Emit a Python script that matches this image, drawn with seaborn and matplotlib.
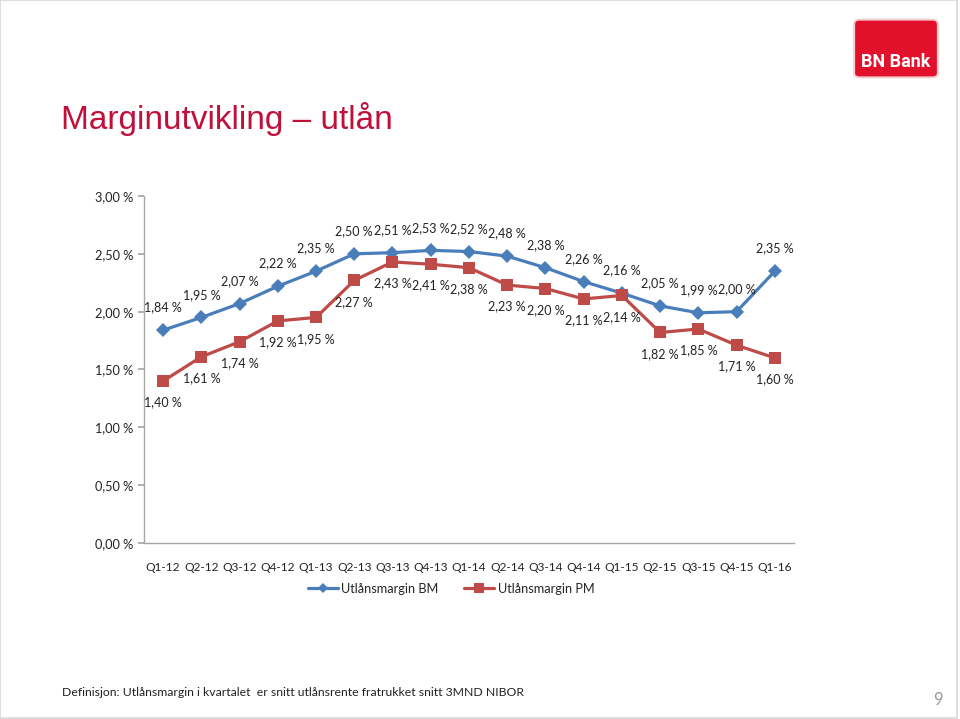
import matplotlib
matplotlib.use("Agg")
import matplotlib.pyplot as plt
import seaborn as sns
import pandas as pd
from matplotlib.patches import FancyBboxPatch, Rectangle
from matplotlib.ticker import FuncFormatter
from matplotlib.lines import Line2D

quarters = ["Q1-12", "Q2-12", "Q3-12", "Q4-12", "Q1-13", "Q2-13", "Q3-13", "Q4-13",
            "Q1-14", "Q2-14", "Q3-14", "Q4-14", "Q1-15", "Q2-15", "Q3-15", "Q4-15", "Q1-16"]
margin_bm = [1.84, 1.95, 2.07, 2.22, 2.35, 2.50, 2.51, 2.53, 2.52, 2.48, 2.38, 2.26,
             2.16, 2.05, 1.99, 2.00, 2.35]
margin_pm = [1.40, 1.61, 1.74, 1.92, 1.95, 2.27, 2.43, 2.41, 2.38, 2.23, 2.20, 2.11,
             2.14, 1.82, 1.85, 1.71, 1.60]
series_names = ["Utlånsmargin BM", "Utlånsmargin PM"]
yticks = [0.0, 0.5, 1.0, 1.5, 2.0, 2.5, 3.0]

sns.set_theme(style="white")
plt.rcParams["font.family"] = ["Lato", "DejaVu Sans"]

df = pd.DataFrame({
    "Kvartal": quarters * 2,
    "Margin": margin_bm + margin_pm,
    "Serie": [series_names[0]] * len(quarters) + [series_names[1]] * len(quarters),
})
df["pos"] = df["Kvartal"].map({q: i for i, q in enumerate(quarters)})

blue = "#4A7EBB"
red = "#BE4B48"

fig = plt.figure(figsize=(9.6, 7.19), dpi=100)
fig.patch.set_facecolor("white")
ax = fig.add_axes([0.150, 0.2448, 0.677, 0.4826])

sns.lineplot(data=df, x="pos", y="Margin", hue="Serie", style="Serie",
             palette={series_names[0]: blue, series_names[1]: red},
             markers={series_names[0]: "D", series_names[1]: "s"},
             dashes=False, linewidth=2.3, markersize=7.5, markeredgewidth=0,
             ax=ax, legend=False)
for line, ms in zip(ax.lines, [7, 9]):
    line.set_markersize(ms)

ax.set_xlim(-0.5, len(quarters) - 0.5)
ax.set_ylim(0, 3.0)
ax.set_xticks(range(len(quarters)))
ax.set_xticklabels(quarters)
ax.set_yticks(yticks)
ax.yaxis.set_major_formatter(FuncFormatter(lambda v, p: f"{v:.2f} %".replace(".", ",")))
ax.set_xlabel("")
ax.set_ylabel("")
for s in ["top", "right"]:
    ax.spines[s].set_visible(False)
for s in ["left", "bottom"]:
    ax.spines[s].set_color("#A6A6A6")
    ax.spines[s].set_linewidth(1.0)
ax.tick_params(axis="y", which="major", left=True, length=4, color="#A6A6A6",
               labelsize=9.2, pad=4, labelcolor="#222222")
ax.tick_params(axis="x", which="major", bottom=False, labelsize=8.6, pad=8,
               labelcolor="#222222")

fmt = lambda v: f"{v:.2f} %".replace(".", ",")
for i, v in enumerate(margin_bm):
    ax.annotate(fmt(v), (i, v), xytext=(0, 12), textcoords="offset points",
                ha="center", va="bottom", fontsize=9, color="#222222")
for i, v in enumerate(margin_pm):
    ax.annotate(fmt(v), (i, v), xytext=(0, -11), textcoords="offset points",
                ha="center", va="top", fontsize=9, color="#222222")

handles = [Line2D([0], [0], color=blue, lw=2.3, marker="D", markersize=5, markeredgewidth=0),
           Line2D([0], [0], color=red, lw=2.3, marker="s", markersize=7, markeredgewidth=0)]
fig.legend(handles, series_names, loc="center", bbox_to_anchor=(0.47, 0.181),
           ncol=2, frameon=False, fontsize=9.2, handlelength=2.3, columnspacing=2.0,
           handletextpad=0.3)

fig.text(0.064, 0.834, "Marginutvikling – utlån", fontsize=24, color="#C0103A",
         family=["Liberation Sans", "DejaVu Sans"], ha="left", va="center")

logo = FancyBboxPatch((856 / 960, 1 - 76 / 719), 80 / 960, 55 / 719,
                      boxstyle="round,pad=0.002,rounding_size=0.006",
                      transform=fig.transFigure, facecolor="#E2102A",
                      edgecolor="#F2D0D4", linewidth=1.5)
fig.patches.append(logo)
fig.text(896 / 960, 1 - 62 / 719, "BN Bank", fontsize=13, color="white",
         fontweight="bold", ha="center", va="center",
         family=["Liberation Sans Narrow", "Roboto", "DejaVu Sans"])

fig.text(62 / 960, 1 - 693 / 719,
         "Definisjon: Utlånsmargin i kvartalet  er snitt utlånsrente fratrukket snitt 3MND NIBOR",
         fontsize=8.8, color="#222222", ha="left", va="center")
fig.text(938 / 960, 1 - 700 / 719, "9", fontsize=12, color="#999999",
         ha="center", va="center")

fig.add_artist(Rectangle((0, 0.002), 0.997, 0.998, transform=fig.transFigure,
                         fill=False, edgecolor="#D8D8D8", linewidth=1.2))

fig.savefig("out.png", dpi=100)
